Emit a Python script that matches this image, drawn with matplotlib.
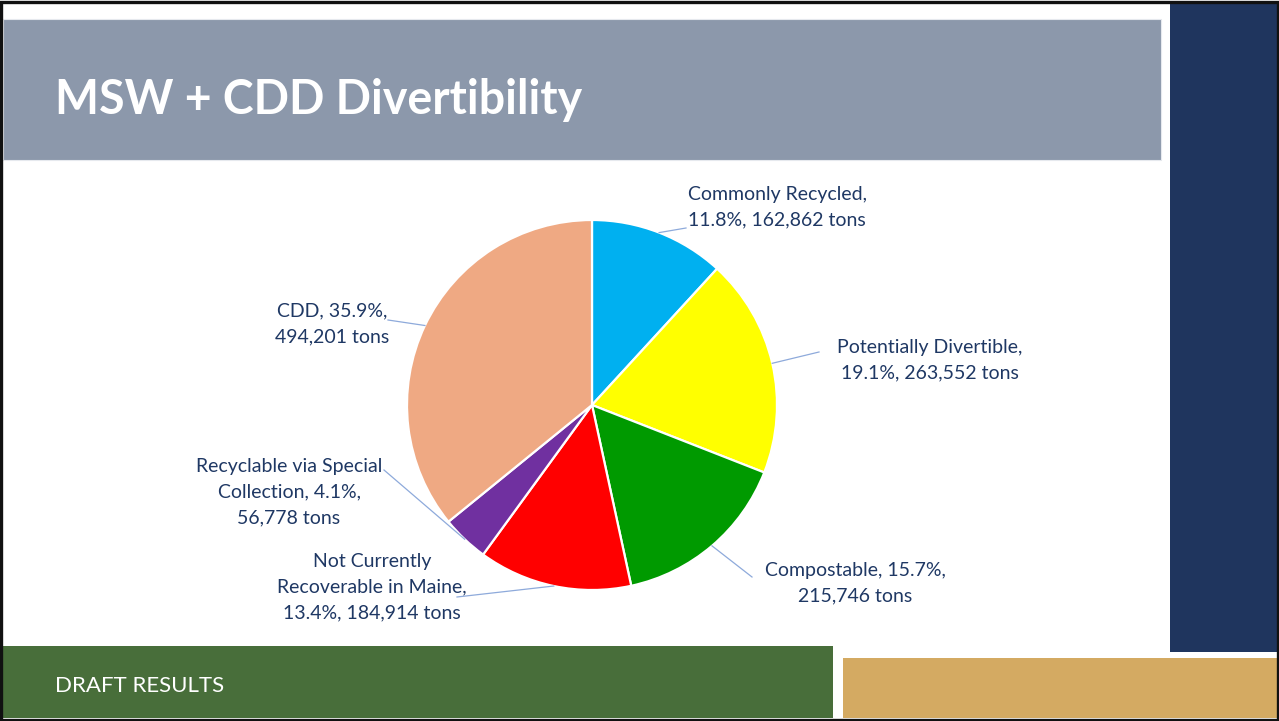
import numpy as np
import matplotlib
matplotlib.use("Agg")
import matplotlib.pyplot as plt
from matplotlib.patches import Rectangle

# tonnage by category (pie runs clockwise from 12 o'clock)
categories = ["Commonly Recycled", "Potentially Divertible", "Compostable",
              "Not Currently\nRecoverable in Maine", "Recyclable via Special\nCollection",
              "CDD"]
tons = [162862, 263552, 215746, 184914, 56778, 494201]
colors = ["#00B0F0", "#FFFF00", "#009A00", "#FF0000", "#7030A0", "#EFA983"]

# label layout: text centre (px from top-left) and where the leader line ends
label_pos = [(777, 207), (930, 360), (855, 583), (372, 587), (289, 492), (332, 324)]
leader_end = [(686, 228), (819, 352), (752, 577), (457, 597), (384, 470), (388, 320)]
label_fmt = ["{name},\n{pct:.1f}%, {tons:,} tons",
             "{name},\n{pct:.1f}%, {tons:,} tons",
             "{name}, {pct:.1f}%,\n{tons:,} tons",
             "{name},\n{pct:.1f}%, {tons:,} tons",
             "{name}, {pct:.1f}%,\n{tons:,} tons",
             "{name}, {pct:.1f}%,\n{tons:,} tons"]

W, H = 1279, 721
fig = plt.figure(figsize=(W / 100, H / 100), dpi=100)
ax = fig.add_axes([0, 0, 1, 1])
ax.set_xlim(0, W)
ax.set_ylim(0, H)
ax.axis("off")


def fy(y):
    # pixel rows count down from the top
    return H - y


def box(x0, y0, x1, y1, color, **kw):
    ax.add_patch(Rectangle((x0, fy(y1)), x1 - x0, y1 - y0, facecolor=color,
                           edgecolor=kw.pop("ec", "none"), zorder=kw.pop("zorder", 1), **kw))


# slide furniture
box(3, 19, 1161, 160, "#8C98AB", ec="#E6E9EE", lw=0.8)
box(1170, 3, W, 652, "#1F355E")
box(3, 646, 833, 718, "#486E3A")
box(843, 658, 1278, 718, "#D4AA62")
ax.add_patch(Rectangle((1, 1), W - 2, H - 2.5, fill=False, edgecolor="#111111", lw=2.4, zorder=5))

ax.text(55, fy(114), "MSW + CDD Divertibility", color="white", fontsize=33.5,
        fontweight="bold", family="Lato", ha="left", va="baseline")
ax.text(55, fy(692), "DRAFT RESULTS", color="white", fontsize=16,
        family="Lato", ha="left", va="baseline")

# pie
cx, cy, r = 592, 405, 185
wedges, _ = ax.pie(tons, colors=colors, startangle=90, counterclock=False,
                   center=(cx, fy(cy)), radius=r, frame=True,
                   wedgeprops=dict(edgecolor="white", linewidth=1.6))
ax.set_xlim(0, W)
ax.set_ylim(0, H)
ax.set_aspect("equal")
ax.axis("off")

total = sum(tons)
for w, name, t, fmt, (tx, ty), (ex, ey) in zip(wedges, categories, tons, label_fmt,
                                               label_pos, leader_end):
    mid = np.deg2rad((w.theta1 + w.theta2) / 2)
    px, py = cx + r * np.cos(mid), fy(cy) + r * np.sin(mid)
    ax.plot([px, ex], [py, fy(ey)], color="#8EAADB", lw=0.9, zorder=3)
    ax.text(tx, fy(ty), fmt.format(name=name, pct=100 * t / total, tons=t),
            color="#1F3864", fontsize=14, family="Lato", ha="center", va="center",
            linespacing=1.6, zorder=4)

fig.savefig("out.png", dpi=100)
